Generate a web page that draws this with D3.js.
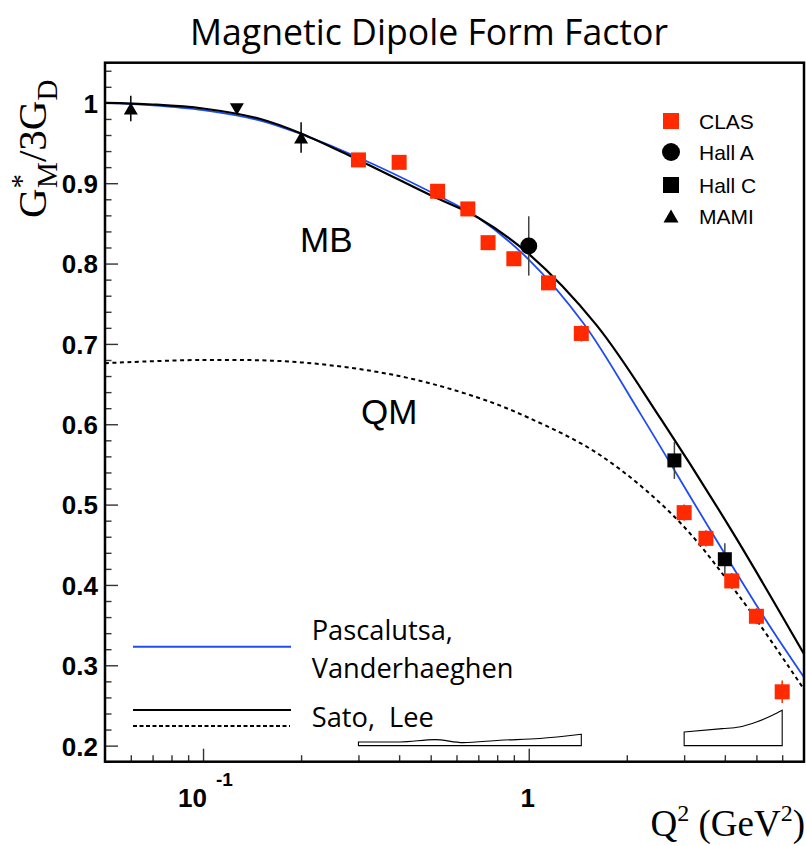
<!DOCTYPE html>
<html>
<head>
<meta charset="utf-8">
<script src="https://cdn.jsdelivr.net/npm/d3@7"></script>
<style>
  body { margin: 0; background: #fff; }
  svg { display: block; }
</style>
</head>
<body>
<svg id="chart" width="806" height="846"></svg>
<script>
// ---- Measurements: G*_M / 3G_D versus Q^2 (GeV^2) ----
const clasQ2  = [0.30, 0.40, 0.525, 0.65, 0.75, 0.90, 1.15, 1.45, 3.0, 3.5, 4.2, 5.0, 6.0];
const clasG   = [0.929, 0.926, 0.890, 0.868, 0.826, 0.806, 0.776, 0.713, 0.490, 0.458, 0.405, 0.361, 0.267];
const clasErr = [0.008, 0.008, 0.008, 0.008, 0.008, 0.008, 0.008, 0.010, 0.010, 0.010, 0.010, 0.010, 0.014];

const hallAQ2  = [1.0];
const hallAG   = [0.822];
const hallAErr = [0.037];

const hallCQ2  = [2.8, 4.0];
const hallCG   = [0.555, 0.432];
const hallCErr = [0.023, 0.020];

const mamiQ2  = [0.06, 0.20];
const mamiG   = [0.993, 0.957];
const mamiErr = [0.016, 0.019];

const lowQ2Q2 = [0.127];
const lowQ2G  = [0.992];

// ---- Model curves ----
const pvQ2 = [0.05, 0.07, 0.10, 0.15, 0.20, 0.30, 0.50, 0.70, 1.00, 1.47, 2.21, 3.59, 5.35, 7.0];
const pvG  = [1.000, 0.997, 0.991, 0.978, 0.961, 0.932, 0.889, 0.857, 0.805, 0.726, 0.612, 0.470, 0.356, 0.285];

const slQ2 = [0.05, 0.07, 0.10, 0.15, 0.20, 0.30, 0.50, 0.70, 1.00, 1.61, 2.55, 4.22, 7.0];
const slG  = [1.000, 0.998, 0.993, 0.980, 0.962, 0.929, 0.885, 0.857, 0.812, 0.724, 0.606, 0.466, 0.314];

const qmQ2 = [0.05, 0.10, 0.20, 0.40, 0.70, 1.00, 1.65, 2.83, 4.43, 7.0];
const qmG  = [0.676, 0.680, 0.677, 0.660, 0.633, 0.608, 0.562, 0.483, 0.386, 0.270];

// ---- Systematic-error bands (upper edge, drawn from the 0.2 baseline) ----
const band1Q2  = [0.30, 0.403, 0.515, 0.629, 0.815, 1.08, 1.45];
const band1Top = [0.2046, 0.2046, 0.2075, 0.2038, 0.2067, 0.2088, 0.2141];
const band2Q2  = [3.0, 3.93, 4.43, 5.0, 5.6, 6.0];
const band2Top = [0.2170, 0.2212, 0.2232, 0.2294, 0.2378, 0.2440];
const bandBase = 0.2;

// ---- Axis ticks and labels ----
const yMajor = [0.2, 0.3, 0.4, 0.5, 0.6, 0.7, 0.8, 0.9, 1.0];
const yLabels = ["0.2", "0.3", "0.4", "0.5", "0.6", "0.7", "0.8", "0.9", "1"];
const xMajor = [0.1, 1];
const xMinor = [0.06, 0.07, 0.08, 0.09, 0.2, 0.3, 0.4, 0.5, 0.6, 0.7, 0.8, 0.9, 2, 3, 4, 5, 6];
const xLabelBase = ["10", "1"];
const xLabelExp  = ["-1", ""];

const legendNames = ["CLAS", "Hall A", "Hall C", "MAMI"];
const modelNames = ["Pascalutsa,", "Vanderhaeghen", "Sato,  Lee"];

const RED = "#ff2a00";
const BLUE = "#1f4cf2";
const SANS = "'Liberation Sans', Arial, Helvetica, sans-serif";
const SERIF = "'Liberation Serif', 'Times New Roman', serif";
const CAL = "'Open Sans', 'Noto Sans', sans-serif";

const svg = d3.select("#chart");
const frame = { left: 105, right: 804, top: 62.7, bottom: 761.7 };

const x = d3.scaleLog().domain([0.05, 7]).range([frame.left, frame.right]);
const y = d3.scaleLinear().domain([0.18, 1.05]).range([frame.bottom, frame.top]);

const zip = (a, b, c) => a.map((v, i) => ({ q: v, g: b[i], e: c ? c[i] : 0 }));

// fit a text node to a target width by adjusting its font size
function fitWidth(sel, target) {
  const fs = parseFloat(sel.attr("font-size"));
  const w = sel.node().getComputedTextLength();
  if (w > 0) sel.attr("font-size", (fs * target / w).toFixed(2));
}

// ---- Title ----
const title = svg.append("text")
  .attr("x", 429).attr("y", 45)
  .attr("text-anchor", "middle")
  .attr("font-family", CAL).attr("font-size", 40)
  .attr("fill", "#000")
  .text("Magnetic Dipole Form Factor");
fitWidth(title, 478);

// ---- Clip region ----
svg.append("defs").append("clipPath").attr("id", "plotClip")
  .append("rect")
  .attr("x", frame.left).attr("y", frame.top)
  .attr("width", frame.right - frame.left).attr("height", frame.bottom - frame.top);

// ---- Axes ----
const yAxis = svg.append("g").attr("transform", `translate(${frame.left},0)`)
  .call(d3.axisLeft(y).tickValues(yMajor).tickSizeInner(-13).tickSizeOuter(0).tickPadding(7)
    .tickFormat((d, i) => yLabels[i]));
const yMinorAxis = svg.append("g").attr("transform", `translate(${frame.left},0)`)
  .call(d3.axisLeft(y).tickValues(d3.range(9, 53).map(k => k * 0.02).filter(v => Math.abs(v * 10 - Math.round(v * 10)) > 1e-6))
    .tickSizeInner(-6.5).tickSizeOuter(0).tickFormat(""));
const xAxis = svg.append("g").attr("transform", `translate(0,${frame.bottom})`)
  .call(d3.axisBottom(x).tickValues(xMajor).tickSizeInner(-13).tickSizeOuter(0).tickFormat(""));
const xMinorAxis = svg.append("g").attr("transform", `translate(0,${frame.bottom})`)
  .call(d3.axisBottom(x).tickValues(xMinor).tickSizeInner(-6.5).tickSizeOuter(0).tickFormat(""));

[yAxis, yMinorAxis, xAxis, xMinorAxis].forEach(g => {
  g.select(".domain").remove();
  g.selectAll(".tick line").attr("stroke", "#333").attr("stroke-width", 1.4);
});
yAxis.selectAll(".tick text")
  .attr("font-family", SANS).attr("font-weight", "bold").attr("font-size", 26)
  .attr("fill", "#000").attr("dy", "0.36em");

// x tick labels with exponent
xMajor.forEach((v, i) => {
  const px = x(v);
  if (xLabelExp[i]) {
    svg.append("text").attr("x", px + 4).attr("y", 807)
      .attr("text-anchor", "end").attr("font-family", SANS).attr("font-weight", "bold")
      .attr("font-size", 26).text(xLabelBase[i]);
    svg.append("text").attr("x", px + 13).attr("y", 786)
      .attr("text-anchor", "start").attr("font-family", SANS).attr("font-weight", "bold")
      .attr("font-size", 19).text(xLabelExp[i]);
  } else {
    svg.append("text").attr("x", px - 1).attr("y", 807)
      .attr("text-anchor", "middle").attr("font-family", SANS).attr("font-weight", "bold")
      .attr("font-size", 26).text(xLabelBase[i]);
  }
});

// Axis titles
const xt = svg.append("text").attr("x", 805).attr("y", 836)
  .attr("text-anchor", "end").attr("font-family", SERIF).attr("font-size", 37);
xt.append("tspan").text("Q");
xt.append("tspan").attr("font-size", 24).attr("dy", -15).text("2");
xt.append("tspan").attr("dy", 15).text(" (GeV");
xt.append("tspan").attr("font-size", 24).attr("dy", -15).text("2");
xt.append("tspan").attr("dy", 15).text(")");

const yt = svg.append("text")
  .attr("transform", "translate(46,218) rotate(-90)")
  .attr("font-family", SERIF).attr("font-size", 41);
yt.append("tspan").text("G");
yt.append("tspan").attr("font-size", 29).attr("dy", -15).text("*");
yt.append("tspan").attr("font-size", 29).attr("dx", -14).attr("dy", 26).text("M");
yt.append("tspan").attr("dy", -11).text("/3G");
yt.append("tspan").attr("font-size", 29).attr("dy", 11).text("D");

// ---- Curves ----
const plot = svg.append("g").attr("clip-path", "url(#plotClip)");
const line = d3.line().x(d => x(d.q)).y(d => y(d.g)).curve(d3.curveCatmullRom.alpha(0.5));

plot.append("path").datum(zip(qmQ2, qmG))
  .attr("d", line).attr("fill", "none").attr("stroke", "#000")
  .attr("stroke-width", 2).attr("stroke-dasharray", "4,3.5");
plot.append("path").datum(zip(pvQ2, pvG))
  .attr("d", line).attr("fill", "none").attr("stroke", BLUE).attr("stroke-width", 1.8);
plot.append("path").datum(zip(slQ2, slG))
  .attr("d", line).attr("fill", "none").attr("stroke", "#000").attr("stroke-width", 2.2);

// ---- Systematic bands ----
const band = d3.area().x(d => x(d.q)).y0(y(bandBase)).y1(d => y(d.g)).curve(d3.curveMonotoneX);
[[band1Q2, band1Top], [band2Q2, band2Top]].forEach(([q, t]) => {
  plot.append("path").datum(zip(q, t)).attr("d", band)
    .attr("fill", "#fff").attr("stroke", "#000").attr("stroke-width", 1.1);
});

// ---- Markers ----
function triPath(s, down) {
  const h = s * 0.86;
  return down
    ? `M${-s / 2},${-h / 2}L${s / 2},${-h / 2}L0,${h / 2}Z`
    : `M0,${-h / 2}L${s / 2},${h / 2}L${-s / 2},${h / 2}Z`;
}

function errorBars(data, color) {
  plot.append("g").selectAll("line").data(data.filter(d => d.e > 0)).join("line")
    .attr("x1", d => x(d.q)).attr("x2", d => x(d.q))
    .attr("y1", d => y(d.g - d.e)).attr("y2", d => y(d.g + d.e))
    .attr("stroke", color).attr("stroke-width", 1.5);
}

const clas = zip(clasQ2, clasG, clasErr);
const hallA = zip(hallAQ2, hallAG, hallAErr);
const hallC = zip(hallCQ2, hallCG, hallCErr);
const mami = zip(mamiQ2, mamiG, mamiErr);
const lowQ2 = zip(lowQ2Q2, lowQ2G);

errorBars(hallC, "#444");
errorBars(hallA, "#444");
errorBars(mami, "#000");
errorBars(clas, RED);

const sq = 15;
plot.append("g").selectAll("rect").data(clas).join("rect")
  .attr("x", d => x(d.q) - sq / 2).attr("y", d => y(d.g) - sq / 2)
  .attr("width", sq).attr("height", sq).attr("fill", RED);
plot.append("g").selectAll("rect").data(hallC).join("rect")
  .attr("x", d => x(d.q) - 7).attr("y", d => y(d.g) - 7)
  .attr("width", 14).attr("height", 14).attr("fill", "#000");
plot.append("g").selectAll("circle").data(hallA).join("circle")
  .attr("cx", d => x(d.q)).attr("cy", d => y(d.g)).attr("r", 8.5).attr("fill", "#000");
plot.append("g").selectAll("path").data(mami).join("path")
  .attr("transform", d => `translate(${x(d.q)},${y(d.g)})`)
  .attr("d", triPath(14, false)).attr("fill", "#000");
plot.append("g").selectAll("path").data(lowQ2).join("path")
  .attr("transform", d => `translate(${x(d.q)},${y(d.g)})`)
  .attr("d", triPath(14, true)).attr("fill", "#000");

// ---- Frame ----
svg.append("rect")
  .attr("x", frame.left).attr("y", frame.top)
  .attr("width", frame.right - frame.left).attr("height", frame.bottom - frame.top)
  .attr("fill", "none").attr("stroke", "#000").attr("stroke-width", 2.5);

// ---- Region labels ----
svg.append("text").attr("x", 300).attr("y", 252)
  .attr("font-family", SANS).attr("font-size", 35).text("MB");
svg.append("text").attr("x", 361).attr("y", 424)
  .attr("font-family", SANS).attr("font-size", 35).text("QM");

// ---- Experiment legend ----
const legY = [121, 152, 185, 216];
const legX = 671;
const leg = svg.append("g");
leg.append("rect").attr("x", legX - 8).attr("y", legY[0] - 8).attr("width", 16).attr("height", 16).attr("fill", RED);
leg.append("circle").attr("cx", legX).attr("cy", legY[1]).attr("r", 9).attr("fill", "#000");
leg.append("rect").attr("x", legX - 8).attr("y", legY[2] - 8).attr("width", 16).attr("height", 16).attr("fill", "#000");
leg.append("path").attr("transform", `translate(${legX},${legY[3]})`).attr("d", triPath(15, false)).attr("fill", "#000");
legendNames.forEach((n, i) => {
  leg.append("text").attr("x", 699).attr("y", legY[i] + 7.5)
    .attr("font-family", SANS).attr("font-size", 21).text(n);
});

// ---- Model legend ----
const ml = svg.append("g");
ml.append("line").attr("x1", 133).attr("x2", 291).attr("y1", 646.7).attr("y2", 646.7)
  .attr("stroke", BLUE).attr("stroke-width", 2);
ml.append("line").attr("x1", 133).attr("x2", 291).attr("y1", 710).attr("y2", 710)
  .attr("stroke", "#000").attr("stroke-width", 2);
ml.append("line").attr("x1", 133).attr("x2", 290).attr("y1", 726).attr("y2", 726)
  .attr("stroke", "#000").attr("stroke-width", 2).attr("stroke-dasharray", "4,2.5");
const t1 = ml.append("text").attr("x", 311.7).attr("y", 640).attr("font-family", CAL).attr("font-size", 24).text(modelNames[0]);
const t2 = ml.append("text").attr("x", 311.7).attr("y", 678).attr("font-family", CAL).attr("font-size", 24).text(modelNames[1]);
fitWidth(t2, 202);
t1.attr("font-size", t2.attr("font-size"));
ml.append("text").attr("x", 311.7).attr("y", 726.7).attr("font-family", CAL)
  .attr("font-size", t2.attr("font-size")).style("white-space", "pre").text(modelNames[2]);
</script>
</body>
</html>
